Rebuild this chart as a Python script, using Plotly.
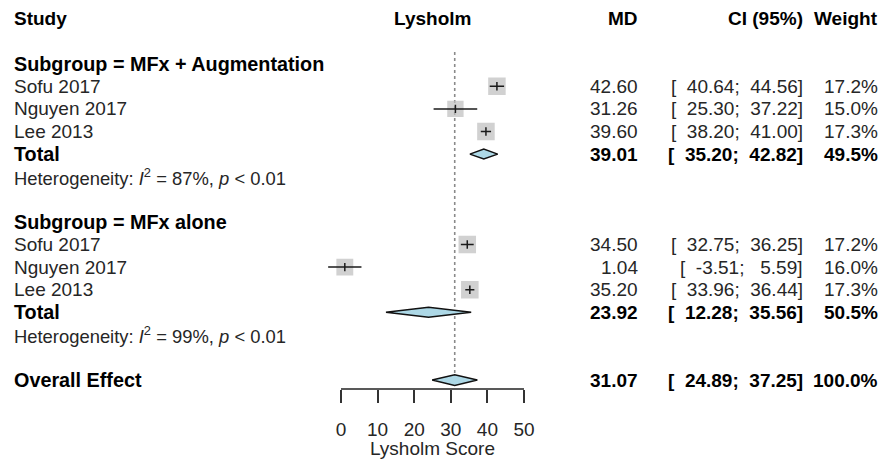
import plotly.graph_objects as go

# ---------------- data ----------------
studies = ["Sofu 2017", "Nguyen 2017", "Lee 2013"]

g1_name = "Subgroup = MFx + Augmentation"
g1_md = [42.60, 31.26, 39.60]
g1_lo = [40.64, 25.30, 38.20]
g1_hi = [44.56, 37.22, 41.00]
g1_w = [17.2, 15.0, 17.3]
g1_total = [39.01, 35.20, 42.82]
g1_total_w = 49.5
g1_i2 = 87

g2_name = "Subgroup = MFx alone"
g2_md = [34.50, 1.04, 35.20]
g2_lo = [32.75, -3.51, 33.96]
g2_hi = [36.25, 5.59, 36.44]
g2_w = [17.2, 16.0, 17.3]
g2_total = [23.92, 12.28, 35.56]
g2_total_w = 50.5
g2_i2 = 99

overall = [31.07, 24.89, 37.25]
overall_w = 100.0

tick_vals = [0, 10, 20, 30, 40, 50]
x_title = "Lysholm Score"

# ---------------- layout helpers ----------------
W, H = 883, 462
FONT = "Liberation Sans, Arial, Helvetica, sans-serif"
FS = 19
FS_B = 19.8
FS_HET = 18.4
TXT = "#262626"

def px(x):
    return x / W

# row indices (0 = header)
g1_rows = [3, 4, 5]
g2_rows = [10, 11, 12]
g1_head_row, g1_tot_row, g1_het_row = 2, 6, 7
g2_head_row, g2_tot_row, g2_het_row = 9, 13, 14
overall_row = 16

fig = go.Figure()

# reference (overall) dotted line
fig.add_trace(go.Scatter(x=[overall[0], overall[0]], y=[1.48, 15.7], mode="lines",
                         line=dict(color="#8a8a8a", width=1.6, dash="dot"),
                         hoverinfo="skip", showlegend=False))

all_md = g1_md + g2_md
all_lo = g1_lo + g2_lo
all_hi = g1_hi + g2_hi
all_w = g1_w + g2_w
all_rows = g1_rows + g2_rows

# squares
fig.add_trace(go.Scatter(x=all_md, y=all_rows, mode="markers",
                         marker=dict(symbol="square", color="#bdbdbd",
                                     size=[17.5 * (w / 17.2) ** 0.5 for w in all_w],
                                     line=dict(width=0)),
                         hoverinfo="skip", showlegend=False))

# CI lines
cx, cy = [], []
for lo, hi, r in zip(all_lo, all_hi, all_rows):
    cx += [lo, hi, None]
    cy += [r, r, None]
fig.add_trace(go.Scatter(x=cx, y=cy, mode="lines", line=dict(color="#1a1a1a", width=1.5),
                         hoverinfo="skip", showlegend=False))

# point-estimate tick
fig.add_trace(go.Scatter(x=all_md, y=all_rows, mode="markers",
                         marker=dict(symbol="line-ns", size=6,
                                     line=dict(color="#1a1a1a", width=1.5)),
                         hoverinfo="skip", showlegend=False))

# diamonds
def diamond(vals, row, h):
    est, lo, hi = vals
    fig.add_trace(go.Scatter(x=[lo, est, hi, est, lo], y=[row, row - h, row, row + h, row],
                             mode="lines", fill="toself", fillcolor="#add8e6",
                             line=dict(color="#111111", width=1.5),
                             hoverinfo="skip", showlegend=False))

diamond(g1_total, g1_tot_row, 0.22)
diamond(g2_total, g2_tot_row, 0.22)
diamond(overall, overall_row, 0.24)

# ---------------- text columns ----------------
ann = []

def text(x, row, s, anchor="left", bold=False, xref="paper", size=None):
    if bold:
        s = "<b>" + s + "</b>"
    if size is None:
        size = FS_B if bold else FS
    ann.append(dict(x=x, y=row, xref=xref, yref="y", text=s, showarrow=False,
                    xanchor=anchor, yanchor="middle",
                    font=dict(family=FONT, size=size, color="#000000" if bold else TXT)))

X_STUDY = px(12)
X_MD = px(640)
X_CI = px(805)
X_W = px(880)

def ci_str(lo, hi):
    return "[" + f"{lo:.2f}".rjust(7) + ";" + f"{hi:.2f}".rjust(7) + "]"

# header
text(X_STUDY, 0, "Study", bold=True, size=FS)
text(25, 0, "Lysholm", anchor="center", bold=True, xref="x", size=FS)
text(X_MD, 0, "MD", anchor="right", bold=True, size=FS)
text(X_CI, 0, "CI (95%)", anchor="right", bold=True, size=FS)
text(X_W, 0, "Weight", anchor="right", bold=True, size=FS)

def group(name, head_row, rows, md, lo, hi, w, tot, tot_w, tot_row, het_row, i2):
    text(X_STUDY, head_row, name, bold=True)
    for s, m, l, h, ww, r in zip(studies, md, lo, hi, w, rows):
        text(X_STUDY, r, s)
        text(X_MD, r, f"{m:.2f}", anchor="right")
        text(X_CI, r, ci_str(l, h), anchor="right")
        text(X_W, r, f"{ww:.1f}%", anchor="right")
    text(X_STUDY, tot_row, "Total", bold=True)
    text(X_MD, tot_row, f"{tot[0]:.2f}", anchor="right", bold=True, size=FS)
    text(X_CI, tot_row, ci_str(tot[1], tot[2]), anchor="right", bold=True, size=FS)
    text(X_W, tot_row, f"{tot_w:.1f}%", anchor="right", bold=True, size=FS)
    text(X_STUDY, het_row,
         f"Heterogeneity: <i>I</i><sup>2</sup> = {i2}%, <i>p</i> &lt; 0.01", size=FS_HET)

group(g1_name, g1_head_row, g1_rows, g1_md, g1_lo, g1_hi, g1_w, g1_total, g1_total_w,
      g1_tot_row, g1_het_row, g1_i2)
group(g2_name, g2_head_row, g2_rows, g2_md, g2_lo, g2_hi, g2_w, g2_total, g2_total_w,
      g2_tot_row, g2_het_row, g2_i2)

text(X_STUDY, overall_row, "Overall Effect", bold=True)
text(X_MD, overall_row, f"{overall[0]:.2f}", anchor="right", bold=True, size=FS)
text(X_CI, overall_row, ci_str(overall[1], overall[2]), anchor="right", bold=True, size=FS)
text(X_W, overall_row, f"{overall_w:.1f}%", anchor="right", bold=True, size=FS)

# axis title
ann.append(dict(x=25, y=(H - 448) / H, xref="x", yref="paper", text=x_title,
                showarrow=False, xanchor="center", yanchor="middle",
                font=dict(family=FONT, size=FS, color=TXT)))

# ---------------- axes ----------------
x0_px, x50_px = 341, 524
ppu = (x50_px - x0_px) / 50.0
xr = [-10, 60]
dom = [px(x0_px + xr[0] * ppu), px(x0_px + xr[1] * ppu)]

axis_px = 389
row0_px, row_step = 18.5, 22.6
y_top = (0 - row0_px) / row_step
y_bot = (axis_px - row0_px) / row_step

fig.update_layout(
    width=W, height=H,
    margin=dict(l=0, r=0, t=0, b=0),
    paper_bgcolor="white", plot_bgcolor="white",
    annotations=ann,
    xaxis=dict(domain=dom, range=xr, showgrid=False, zeroline=False, showline=False,
               tickmode="array", tickvals=tick_vals, ticks="outside", ticklen=13,
               tickwidth=1.5, tickcolor="#333333", ticklabelstandoff=10,
               tickfont=dict(family=FONT, size=FS, color=TXT), fixedrange=True),
    yaxis=dict(domain=[(H - axis_px) / H, 1], range=[y_bot, y_top], visible=False,
               fixedrange=True),
    shapes=[dict(type="line", xref="x", yref="y domain", x0=tick_vals[0], x1=tick_vals[-1],
                 y0=0, y1=0, line=dict(color="#222222", width=1.5))],
)

fig.write_html("out.html", config={"displayModeBar": False},
               post_script="document.body.style.margin='0';document.body.style.overflow='hidden';")
